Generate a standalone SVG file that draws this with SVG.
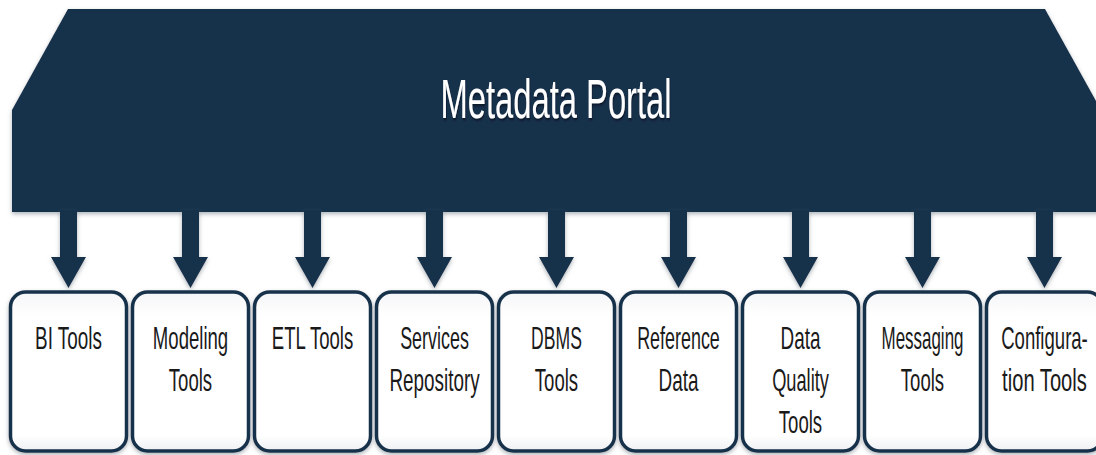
<svg xmlns="http://www.w3.org/2000/svg" width="1096" height="455" viewBox="0 0 1096 455">
  <defs>
    <filter id="shadow" x="-10%" y="-10%" width="120%" height="120%">
      <feDropShadow dx="0" dy="2" stdDeviation="2" flood-color="#6b7480" flood-opacity="0.55"/>
    </filter>
    <filter id="tshadow" x="-5%" y="-10%" width="110%" height="130%">
      <feDropShadow dx="1" dy="2" stdDeviation="1" flood-color="#000000" flood-opacity="0.5"/>
    </filter>
    <linearGradient id="boxfill" x1="0" y1="0" x2="0" y2="1">
      <stop offset="0" stop-color="#f4f5f7"/>
      <stop offset="0.15" stop-color="#ffffff"/>
      <stop offset="0.9" stop-color="#ffffff"/>
      <stop offset="1" stop-color="#eef0f3"/>
    </linearGradient>
    <style>
      .banner { fill: #17304c; }
      .arrow { fill: #17304c; }
      .box { fill: url(#boxfill); stroke: #18304c; stroke-width: 3.5; }
      .lbl { font-family: "Liberation Sans", Arial, sans-serif; font-size: 32px; fill: #1a1a1a; text-anchor: middle; }
      .title { font-family: "Liberation Sans", Arial, sans-serif; font-size: 56px; fill: #ffffff; text-anchor: middle; }
    </style>
  </defs>
  <rect width="1096" height="455" fill="#ffffff"/>

  <g id="portal" filter="url(#shadow)">
    <polygon class="banner" points="68,9 1045,9 1101,110 1101,212 12,212 12,110"/>
    <text class="title" transform="translate(556 0) scale(0.585 1)" x="0" y="118" filter="url(#tshadow)">Metadata Portal</text>
  </g>

  <g id="connectors" filter="url(#shadow)">
    <polygon class="arrow" points="60,210 77,210 77,257 86,257 68.5,288 51,257 60,257"/>
    <polygon class="arrow" points="182,210 199,210 199,257 208,257 190.5,288 173,257 182,257"/>
    <polygon class="arrow" points="304,210 321,210 321,257 330,257 312.5,288 295,257 304,257"/>
    <polygon class="arrow" points="426,210 443,210 443,257 452,257 434.5,288 417,257 426,257"/>
    <polygon class="arrow" points="548,210 565,210 565,257 574,257 556.5,288 539,257 548,257"/>
    <polygon class="arrow" points="670,210 687,210 687,257 696,257 678.5,288 661,257 670,257"/>
    <polygon class="arrow" points="792,210 809,210 809,257 818,257 800.5,288 783,257 792,257"/>
    <polygon class="arrow" points="914,210 931,210 931,257 940,257 922.5,288 905,257 914,257"/>
    <polygon class="arrow" points="1036,210 1053,210 1053,257 1062,257 1044.5,288 1027,257 1036,257"/>
  </g>

  <g id="bi-tools">
    <rect class="box" x="10.5" y="292" width="116" height="159" rx="15" filter="url(#shadow)"/>
    <text class="lbl" transform="translate(68.5 0) scale(0.59 1)" x="0" y="349">BI Tools</text>
  </g>
  <g id="modeling-tools">
    <rect class="box" x="132.5" y="292" width="116" height="159" rx="15" filter="url(#shadow)"/>
    <text class="lbl" transform="translate(190.5 0) scale(0.58 1)" x="0" y="349">Modeling</text>
    <text class="lbl" transform="translate(190.5 0) scale(0.58 1)" x="0" y="391">Tools</text>
  </g>
  <g id="etl-tools">
    <rect class="box" x="254.5" y="292" width="116" height="159" rx="15" filter="url(#shadow)"/>
    <text class="lbl" transform="translate(312.5 0) scale(0.58 1)" x="0" y="349">ETL Tools</text>
  </g>
  <g id="services-repository">
    <rect class="box" x="376.5" y="292" width="116" height="159" rx="15" filter="url(#shadow)"/>
    <text class="lbl" transform="translate(434.5 0) scale(0.56 1)" x="0" y="349">Services</text>
    <text class="lbl" transform="translate(434.5 0) scale(0.59 1)" x="0" y="391">Repository</text>
  </g>
  <g id="dbms-tools">
    <rect class="box" x="498.5" y="292" width="116" height="159" rx="15" filter="url(#shadow)"/>
    <text class="lbl" transform="translate(556.5 0) scale(0.55 1)" x="0" y="349">DBMS</text>
    <text class="lbl" transform="translate(556.5 0) scale(0.58 1)" x="0" y="391">Tools</text>
  </g>
  <g id="reference-data">
    <rect class="box" x="620.5" y="292" width="116" height="159" rx="15" filter="url(#shadow)"/>
    <text class="lbl" transform="translate(678.5 0) scale(0.56 1)" x="0" y="349">Reference</text>
    <text class="lbl" transform="translate(678.5 0) scale(0.59 1)" x="0" y="391">Data</text>
  </g>
  <g id="data-quality-tools">
    <rect class="box" x="742.5" y="292" width="116" height="159" rx="15" filter="url(#shadow)"/>
    <text class="lbl" transform="translate(800.5 0) scale(0.59 1)" x="0" y="349">Data</text>
    <text class="lbl" transform="translate(800.5 0) scale(0.57 1)" x="0" y="391">Quality</text>
    <text class="lbl" transform="translate(800.5 0) scale(0.58 1)" x="0" y="433">Tools</text>
  </g>
  <g id="messaging-tools">
    <rect class="box" x="864.5" y="292" width="116" height="159" rx="15" filter="url(#shadow)"/>
    <text class="lbl" transform="translate(922.5 0) scale(0.53 1)" x="0" y="349">Messaging</text>
    <text class="lbl" transform="translate(922.5 0) scale(0.58 1)" x="0" y="391">Tools</text>
  </g>
  <g id="configuration-tools">
    <rect class="box" x="986.5" y="292" width="116" height="159" rx="15" filter="url(#shadow)"/>
    <text class="lbl" transform="translate(1044.5 0) scale(0.58 1)" x="0" y="349">Configura-</text>
    <text class="lbl" transform="translate(1044.5 0) scale(0.63 1)" x="0" y="391">tion Tools</text>
  </g>
</svg>
